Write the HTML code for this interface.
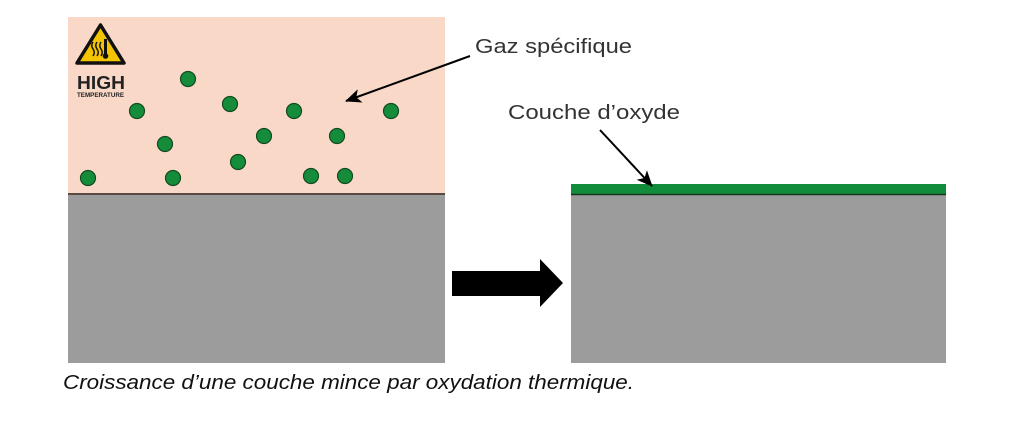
<!DOCTYPE html>
<html><head><meta charset="utf-8"><style>
html,body{margin:0;padding:0;background:#fff;width:1024px;height:425px;overflow:hidden}
</style></head><body>
<svg width="1024" height="425" viewBox="0 0 1024 425" xmlns="http://www.w3.org/2000/svg">
<defs>
<marker id="ah2" markerWidth="16" markerHeight="14" refX="15" refY="7" orient="auto" markerUnits="userSpaceOnUse"><path d="M0,0 L16,7 L0,14 L4,7 Z" fill="#000"/></marker></defs>
<rect x="68" y="17" width="377" height="177" fill="#fad8c8"/>
<rect x="68" y="194" width="377" height="169" fill="#9c9c9c"/>
<line x1="68" y1="194" x2="445" y2="194" stroke="#5a4a44" stroke-width="2"/>
<g fill="#148c3a" stroke="#124a22" stroke-width="1.2">
<circle cx="88" cy="178" r="7.5"/><circle cx="188" cy="79" r="7.5"/><circle cx="137" cy="111" r="7.5"/>
<circle cx="230" cy="104" r="7.5"/><circle cx="294" cy="111" r="7.5"/><circle cx="391" cy="111" r="7.5"/>
<circle cx="165" cy="144" r="7.5"/><circle cx="264" cy="136" r="7.5"/><circle cx="337" cy="136" r="7.5"/>
<circle cx="238" cy="162" r="7.5"/><circle cx="173" cy="178" r="7.5"/><circle cx="311" cy="176" r="7.5"/>
<circle cx="345" cy="176" r="7.5"/></g>
<path d="M100.5,25 L124,63 L77,63 Z" fill="#f5c400" stroke="#111" stroke-width="3.5" stroke-linejoin="round"/>
<g stroke="#111" stroke-width="1.5" fill="none"><path d="M93,42 q-2.5,3.5 0,7 q2.5,3.5 0,7"/><path d="M97,42 q-2.5,3.5 0,7 q2.5,3.5 0,7"/><path d="M101,42 q-2.5,3.5 0,7 q2.5,3.5 0,7"/></g>
<rect x="104" y="39" width="3" height="16" fill="#111"/><circle cx="105.5" cy="56" r="2.8" fill="#111"/>
<text x="77" y="89" font-family="Liberation Sans, sans-serif" font-weight="bold" font-size="18" fill="#222" textLength="48" lengthAdjust="spacingAndGlyphs">HIGH</text>
<text x="77" y="97" font-family="Liberation Sans, sans-serif" font-weight="bold" font-size="6" fill="#222" textLength="47" lengthAdjust="spacingAndGlyphs">TEMPERATURE</text>
<text x="475" y="53" font-family="Liberation Sans, sans-serif" font-size="20" fill="#333" textLength="157" lengthAdjust="spacingAndGlyphs">Gaz spécifique</text>
<line x1="470" y1="56" x2="346" y2="101" stroke="#000" stroke-width="2" marker-end="url(#ah2)"/>
<path d="M452,271 L540,271 L540,259 L563,283 L540,307 L540,296 L452,296 Z" fill="#000"/>
<rect x="571" y="184" width="375" height="10" fill="#118c3a"/>
<rect x="571" y="194" width="375" height="169" fill="#9c9c9c"/>
<line x1="571" y1="194.5" x2="946" y2="194.5" stroke="#1a3320" stroke-width="1.5"/>
<text x="508" y="119" font-family="Liberation Sans, sans-serif" font-size="20" fill="#333" textLength="172" lengthAdjust="spacingAndGlyphs">Couche d’oxyde</text>
<line x1="600" y1="130" x2="652" y2="186" stroke="#000" stroke-width="2" marker-end="url(#ah2)"/>
<text x="63" y="389" font-family="Liberation Sans, sans-serif" font-style="italic" font-size="20" fill="#111" textLength="571" lengthAdjust="spacingAndGlyphs">Croissance d’une couche mince par oxydation thermique.</text>
</svg>
</body></html>
